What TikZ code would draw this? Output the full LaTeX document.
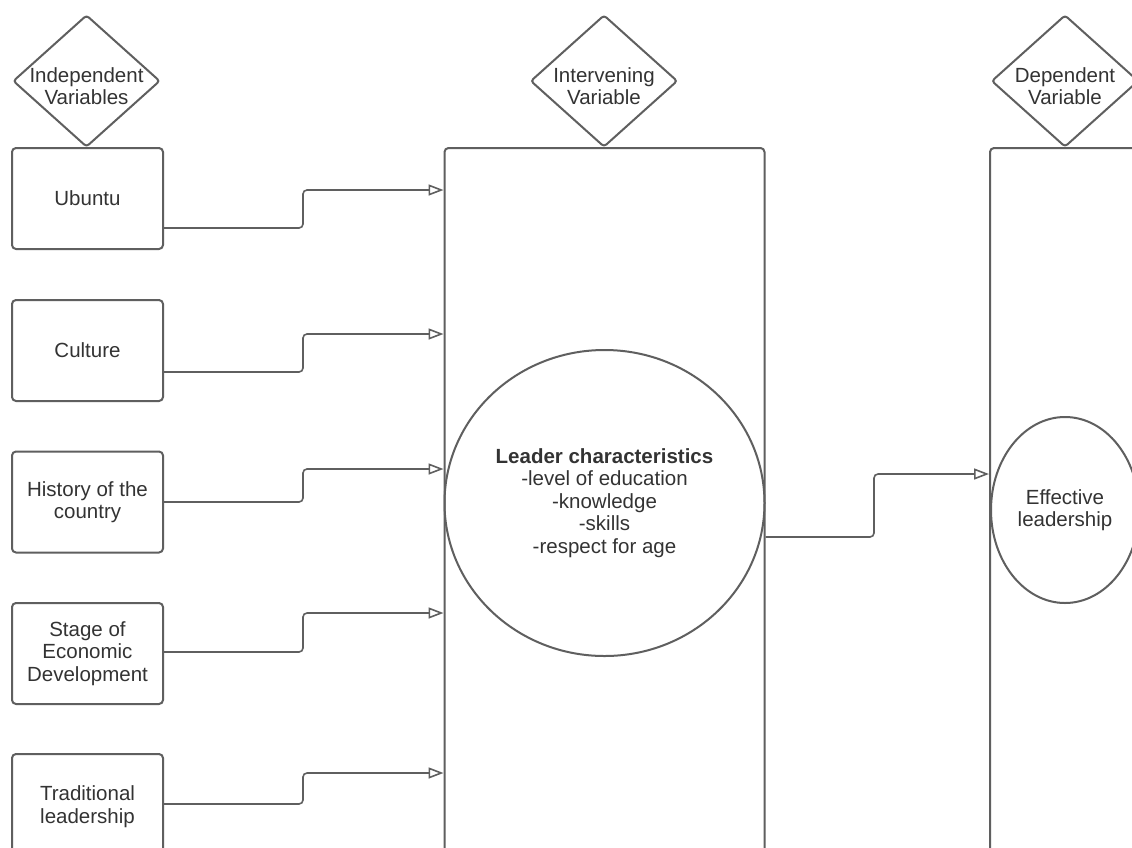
\documentclass[tikz,border=0pt]{standalone}
\usepackage{fontspec}
\setmainfont{Liberation Sans}
\usetikzlibrary{arrows.meta,shapes.geometric}
\definecolor{ln}{HTML}{5F5F5F}
\definecolor{tx}{HTML}{333333}
\tikzset{
  lbl/.style={text=tx, font=\fontsize{20.5}{22.5}\selectfont, align=center, inner sep=0pt},
  box/.style={lbl, draw=ln, line width=2pt, rounded corners=4pt, minimum width=151pt, minimum height=101pt},
  tall/.style={draw=ln, line width=2pt, rounded corners=4pt, inner sep=0pt},
  dia/.style={draw=ln, line width=2pt, diamond, rounded corners=3pt, inner sep=0pt, minimum width=147pt, minimum height=132pt},
  oval/.style={lbl, draw=ln, line width=2pt, ellipse},
  conn/.style={draw=ln, line width=1.6pt, rounded corners=4pt, -{Triangle[open,length=15pt,width=11pt]}}
}
\begin{document}
\begin{tikzpicture}[x=1pt,y=-1pt]
\useasboundingbox (0,0) rectangle (1132,847);
\clip (0,0) rectangle (1132,847);
\fill[white] (0,0) rectangle (1132,847);

% diamonds
\node[dia] (d1) at (86.5,81) {};
\node[lbl] (t1) at (86.5,86) {Independent\\Variables};
\node[dia] (d2) at (604,81) {};
\node[lbl] (t2) at (604,86) {Intervening\\Variable};
\node[dia] (d3) at (1065,81) {};
\node[lbl] (t3) at (1065,86) {Dependent\\Variable};

% left boxes
\node[box] (ub) at (87.5,198.5) {Ubuntu};
\node[box] (cu) at (87.5,350.5) {Culture};
\node[box] (hi) at (87.5,502) {History of the\\country};
\node[box] (st) at (87.5,653.5) {Stage of\\Economic\\Development};
\node[box, text depth=0pt] (tr) at (87.5,804.5) {Traditional\\leadership};

% tall rectangles
\node[tall, minimum width=320pt, minimum height=760pt] (mid) at (604.5,528) {};
\node[tall, minimum width=320pt, minimum height=760pt] (rt) at (1150,528) {};

% ellipses
\node[oval, minimum width=320pt, minimum height=306pt] (lc) at (604.5,503)
  {\textbf{Leader characteristics}\\-level of education\\-knowledge\\-skills\\-respect for age};
\node[oval, minimum width=148pt, minimum height=186pt] (el) at (1065,510)
  {Effective\\leadership};

% connectors
\draw[conn] (ub.east |- 0,228) -- (303,228) -- (303,190) -- (mid.west |- 0,190);
\draw[conn] (cu.east |- 0,372) -- (303,372) -- (303,334) -- (mid.west |- 0,334);
\draw[conn] (hi.east |- 0,502) -- (303,502) -- (303,469) -- (mid.west |- 0,469);
\draw[conn] (st.east |- 0,652) -- (303,652) -- (303,613) -- (mid.west |- 0,613);
\draw[conn] (tr.east |- 0,804) -- (303,804) -- (303,773) -- (mid.west |- 0,773);
\draw[conn] (mid.east |- 0,537) -- (874,537) -- (874,474) -- (rt.west |- 0,474);
\end{tikzpicture}
\end{document}
